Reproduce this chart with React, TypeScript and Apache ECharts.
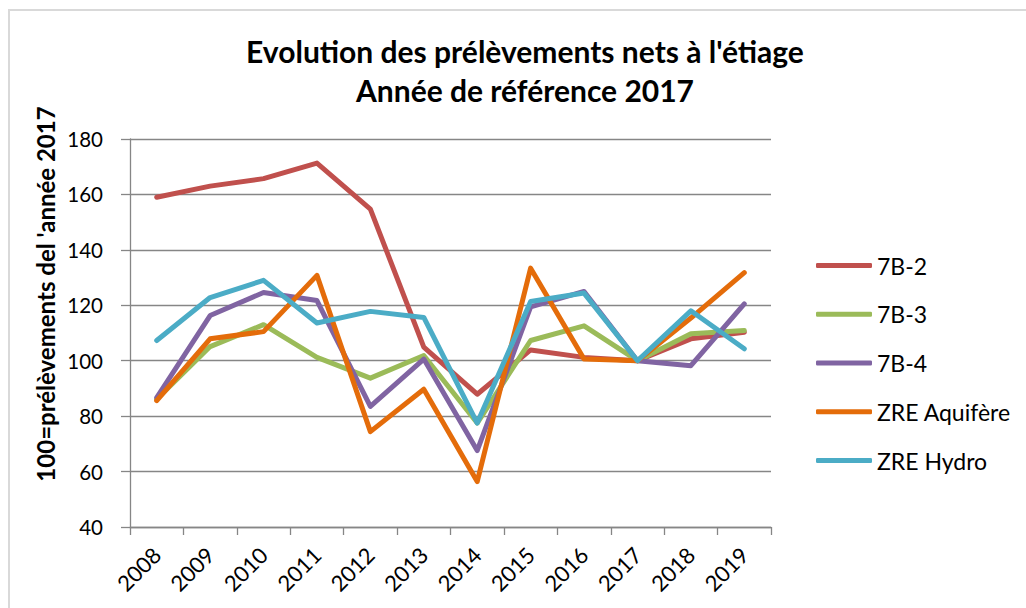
import React, { useEffect, useRef } from "react";
import * as echarts from "echarts";

// Years on the category axis
const years = ["2008", "2009", "2010", "2011", "2012", "2013", "2014", "2015", "2016", "2017", "2018", "2019"];

// Index values, 100 = year 2017
const s7B2 = [159, 163, 165.7, 171.3, 154.7, 104.9, 87.9, 103.9, 101.2, 100, 107.9, 110.3];
const s7B3 = [86.1, 105.1, 113, 101.2, 93.7, 101.9, 77.5, 107.3, 112.6, 100, 109.7, 110.9];
const s7B4 = [86.7, 116.3, 124.6, 121.7, 83.5, 100.6, 67.6, 119.4, 125, 100, 98.2, 120.5];
const sAquifere = [85.6, 107.9, 110.5, 130.8, 74.4, 89.7, 56.4, 133.4, 100.6, 100, 115.4, 131.8];
const sHydro = [107.3, 122.8, 129, 113.6, 117.8, 115.6, 77.5, 121.4, 124.4, 100, 118, 104.3];

const seriesNames = ["7B-2", "7B-3", "7B-4", "ZRE Aquifère", "ZRE Hydro"];
const seriesColors = ["#C0504D", "#9BBB59", "#8064A2", "#E46C0A", "#4BACC6"];
const seriesValues = [s7B2, s7B3, s7B4, sAquifere, sHydro];

// Value axis range
const yMin = 40;
const yMax = 180;
const yStep = 20;

const titleLines = ["Evolution des prélèvements nets à l'étiage", "Année de référence 2017"];
const yAxisTitle = "100=prélèvements del 'année 2017";

const FONT = "Lato, 'Open Sans', sans-serif";
const GRID_GRAY = "#868686";

export default function App() {
  const ref = useRef<HTMLDivElement>(null);

  useEffect(() => {
    if (!ref.current) return;
    const chart = echarts.init(ref.current, null, { renderer: "svg" });

    chart.setOption({
      animation: false,
      backgroundColor: "#ffffff",
      title: {
        text: titleLines.join("\n"),
        left: 525,
        top: 31,
        padding: 0,
        textAlign: "center",
        textStyle: {
          fontFamily: FONT,
          fontWeight: "bold",
          fontSize: 30,
          lineHeight: 39,
          color: "#000000",
        },
      },
      legend: {
        orient: "vertical",
        left: 816,
        top: 254,
        padding: 0,
        itemWidth: 56,
        itemHeight: 5,
        itemGap: 25.75,
        icon: "roundRect",
        data: seriesNames,
        textStyle: {
          fontFamily: FONT,
          fontSize: 23,
          lineHeight: 22,
          color: "#000000",
        },
      },
      grid: {
        left: 130,
        top: 139,
        width: 641,
        height: 388,
        containLabel: false,
      },
      xAxis: {
        type: "category",
        data: years,
        boundaryGap: true,
        axisLine: { show: true, lineStyle: { color: GRID_GRAY, width: 1.3 } },
        axisTick: { show: true, length: 8, interval: 0, lineStyle: { color: GRID_GRAY, width: 1.3 } },
        axisLabel: {
          interval: 0,
          rotate: 45,
          margin: 24,
          fontFamily: FONT,
          fontSize: 22,
          color: "#000000",
        },
      },
      yAxis: {
        type: "value",
        min: yMin,
        max: yMax,
        interval: yStep,
        axisLine: { show: true, lineStyle: { color: GRID_GRAY, width: 1.3 } },
        axisTick: { show: true, length: 9, lineStyle: { color: GRID_GRAY, width: 1.3 } },
        splitLine: { show: true, lineStyle: { color: GRID_GRAY, width: 1.3 } },
        axisLabel: {
          margin: 27,
          fontFamily: FONT,
          fontSize: 20.5,
          color: "#000000",
        },
      },
      graphic: [
        {
          type: "rect",
          silent: true,
          shape: { x: 9, y: 10, width: 1040, height: 620 },
          style: { fill: "none", stroke: "#d9d9d9", lineWidth: 2 },
        },
        {
          type: "text",
          x: 45,
          y: 294,
          rotation: Math.PI / 2,
          style: {
            text: yAxisTitle,
            fontFamily: FONT,
            fontWeight: "bold",
            fontSize: 24,
            fill: "#000000",
            align: "center",
            verticalAlign: "middle",
          },
        },
      ],
      series: seriesNames.map((name, i) => ({
        name,
        type: "line",
        data: seriesValues[i],
        symbol: "none",
        showSymbol: false,
        color: seriesColors[i],
        lineStyle: { color: seriesColors[i], width: 5, cap: "round", join: "round" },
        itemStyle: { color: seriesColors[i] },
      })),
    });

    return () => chart.dispose();
  }, []);

  return (
    <div
      ref={ref}
      style={{ position: "absolute", left: 0, top: 0, width: 1026, height: 608 }}
    />
  );
}
